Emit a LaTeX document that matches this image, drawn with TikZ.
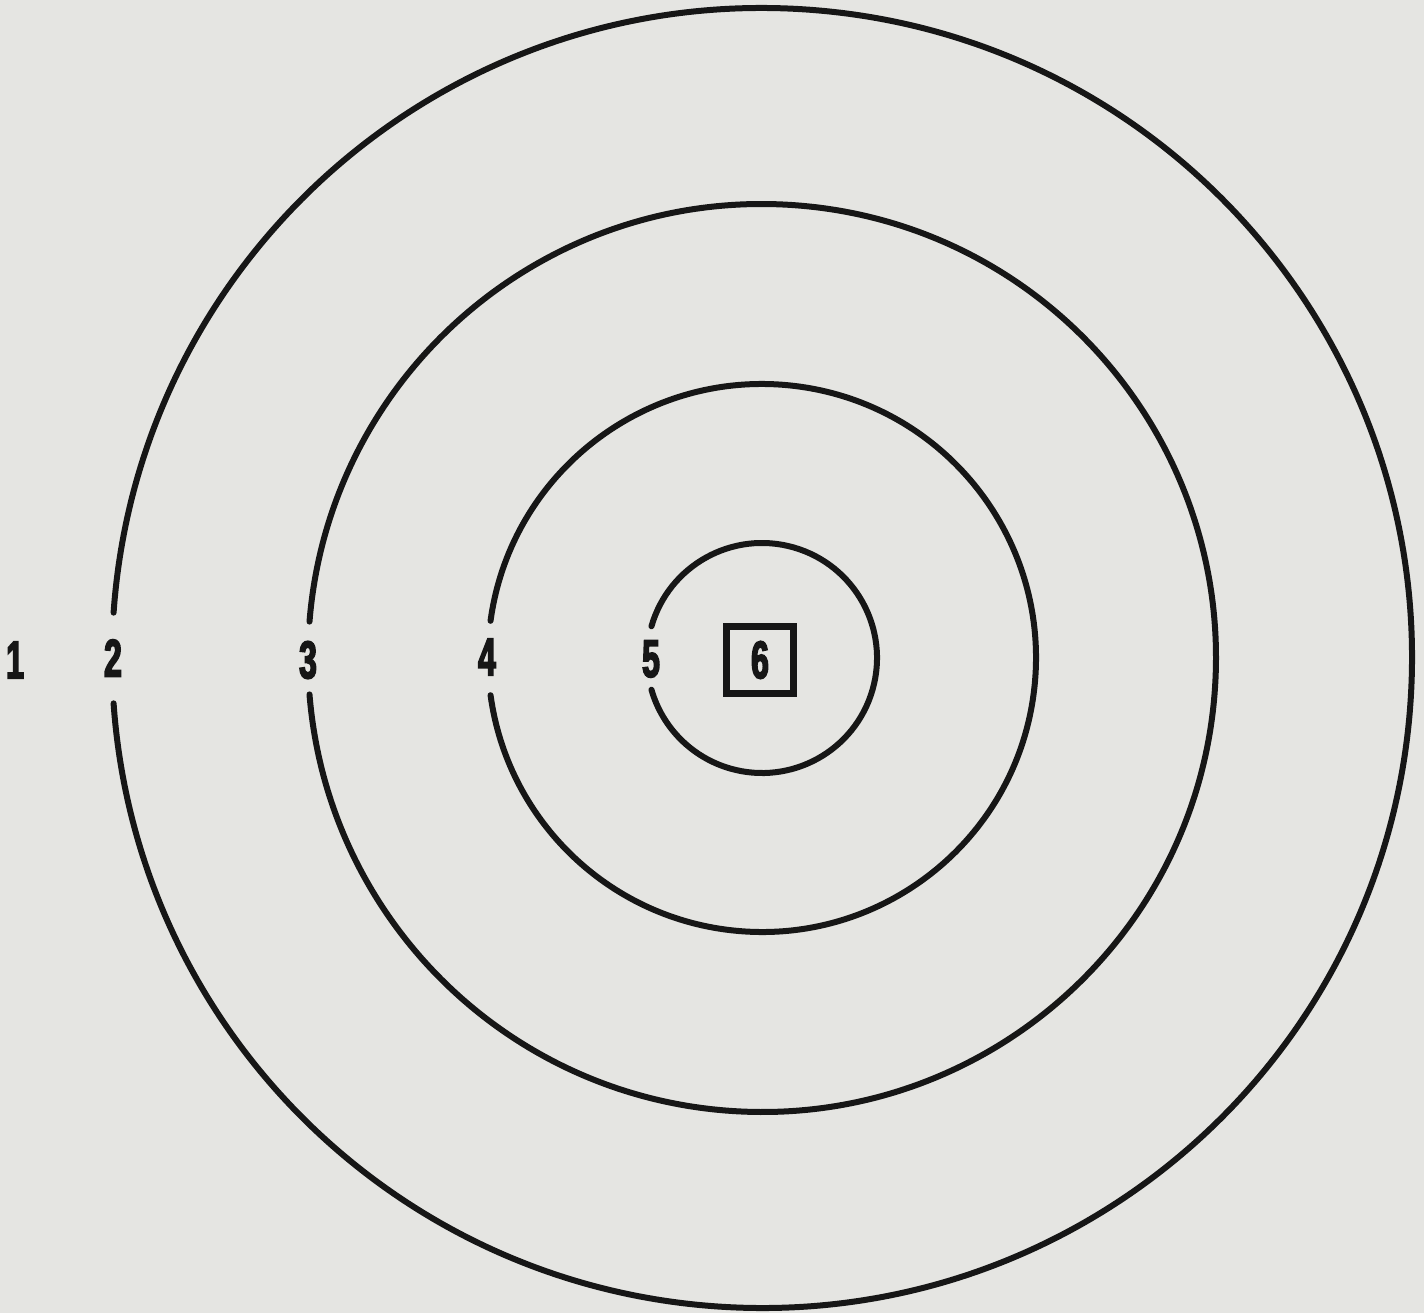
\documentclass[tikz,border=0pt]{standalone}
\usepackage{fontspec}
\usepackage{tikz}
\usetikzlibrary{calc}
\newfontfamily\labelfont[FakeStretch=0.6,FakeBold=3]{Liberation Sans Bold}
\definecolor{paper}{RGB}{229,229,226}
\definecolor{ink}{RGB}{22,22,22}

\begin{document}
\begin{tikzpicture}[
  x=1pt, y=-1pt,
  % rings are open on the left where the numbers sit
  ring/.style={draw=ink, line width=6pt, line cap=round},
  ringlabel/.style={font=\labelfont\fontsize{53}{53}\selectfont, text=ink, inner sep=0pt}
]
  \useasboundingbox[fill=paper] (0,0) rectangle (1424,1313);
  \coordinate (c) at (762,658);
  \foreach \r/\g in {650/4, 454/4.6, 274/7.8, 115/16}
    \draw[ring] ($(c)+(180+\g:\r)$) arc[start angle=180+\g, end angle=540-\g, radius=\r];
  \node[ringlabel] (l1) at (15,660) {1};
  \node[ringlabel] (l2) at (113,658) {2};
  \node[ringlabel] (l3) at (308,660) {3};
  \node[ringlabel] (l4) at (487,657) {4};
  \node[ringlabel] (l5) at (651,659) {5};
  \node[ringlabel, draw=ink, line width=7pt, minimum size=67pt] (l6) at (760,660) {6};
\end{tikzpicture}
\end{document}
